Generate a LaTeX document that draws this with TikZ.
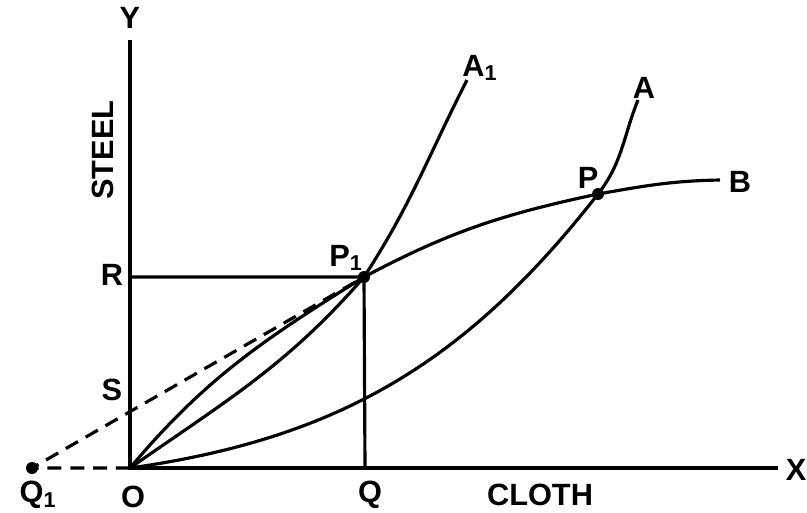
\documentclass[tikz,border=0pt]{standalone}
\usepackage{fontspec}
\setmainfont{Liberation Sans}
\usetikzlibrary{positioning,calc}

\begin{document}
\begin{tikzpicture}[x=0.02cm,y=-0.02cm,line width=1.8pt,
    lbl/.style={font=\fontsize{17.5}{19}\selectfont\bfseries,inner sep=1pt}]
  \useasboundingbox (0,0) rectangle (807,512);
  \coordinate (O) at (130,468);
  \coordinate (Yend) at (130,40);
  \coordinate (Xend) at (778,468);
  \coordinate (Q1) at (32,468);
  \coordinate (Q) at (365,468);
  \coordinate (R) at (130,277);
  \coordinate (P1) at (364,277);
  \coordinate (P) at (598,194);
  \coordinate (A1end) at (467,80);
  \coordinate (Aend) at (638,100);
  \coordinate (Bend) at (720,180);
  % axes
  \draw (Yend)--(O)--(Xend);
  \draw (R)--(P1)--(Q);
  \draw[dash pattern=on 8pt off 5pt] (O)--(Q1)--(P1);
  % curves
  \draw (O) to[out=35,in=229] (P1) to[out=57,in=243] (A1end);
  \draw (O) to[out=50,in=212] (P1) to[out=28,in=192] (P) to[out=10,in=181] (Bend);
  \draw (O) to[out=8,in=232] (P) to[out=52,in=248] (Aend);
  \foreach \p in {Q1,P1,P}{\fill (\p) circle (6);}
  % labels
  \node[lbl] (ylab) at (130,18) {Y};
  \node[lbl] (xlab) at (796,470) {X};
  \node[lbl,rotate=90] (steel) at (103,150) {STEEL};
  \node[lbl] (rlab) at (112,275) {R};
  \node[lbl] (slab) at (112,390) {S};
  \node[lbl] (olab) at (133,497) {O};
  \node[lbl] (q1lab) at (38,495) {Q\textsubscript{1}};
  \node[lbl] (qlab) at (370,495) {Q};
  \node[lbl] (cloth) at (540,495) {CLOTH};
  \node[lbl] (p1lab) at (346,258) {P\textsubscript{1}};
  \node[lbl] (plab) at (588,178) {P};
  \node[lbl] (a1lab) at (480,68) {A\textsubscript{1}};
  \node[lbl] (alab) at (644,88) {A};
  \node[lbl] (blab) at (740,182) {B};
\end{tikzpicture}
\end{document}
